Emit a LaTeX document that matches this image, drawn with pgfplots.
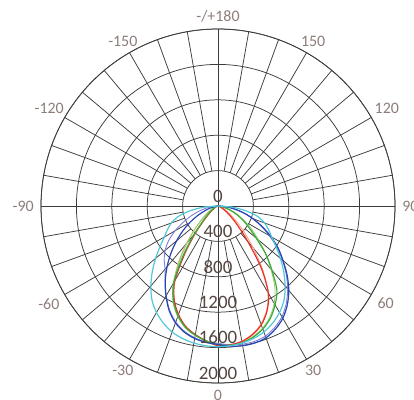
\documentclass[border=0pt]{standalone}
\usepackage{fontspec}
\setmainfont{Carlito}
\usepackage{pgfplots}
\pgfplotsset{compat=1.18}
\usepackage{pgfplotstable}
\usepgfplotslibrary{polar}

\definecolor{gridc}{RGB}{60,60,60}
\definecolor{angc}{RGB}{140,125,120}
\definecolor{ringc}{RGB}{85,70,65}
\definecolor{ccyan}{RGB}{80,200,215}
\definecolor{cblue}{RGB}{40,70,180}
\definecolor{cpurple}{RGB}{125,125,220}
\definecolor{cgreen}{RGB}{60,170,60}
\definecolor{clgreen}{RGB}{150,210,110}
\definecolor{cred}{RGB}{235,45,40}
\definecolor{csalmon}{RGB}{245,165,140}

% a = angle from nadir (deg, + to the right), r = cd
\pgfplotstableread{
a r
-90 0
-85 170
-80 330
-75 470
-70 560
-65 630
-60 700
-55 800
-50 920
-45 1050
-40 1180
-35 1300
-30 1390
-25 1460
-20 1515
-15 1550
-10 1572
-5 1585
0 1590
5 1585
10 1572
15 1550
20 1515
25 1460
30 1390
35 1300
40 1180
45 1050
50 920
55 800
60 700
65 630
70 560
75 470
80 330
85 170
90 0
}\cyandata

\pgfplotstableread{
a r
-90 0
-85 20
-80 45
-75 95
-70 160
-65 250
-60 360
-55 480
-50 610
-45 750
-40 895
-35 1040
-30 1175
-25 1305
-20 1405
-15 1475
-10 1520
-5 1548
0 1565
5 1590
10 1603
15 1603
20 1585
25 1535
30 1465
35 1365
40 1245
45 1105
50 960
55 830
60 690
65 550
70 420
75 300
80 180
85 80
90 0
}\bluedata

\pgfplotstableread{
a r
-90 0
-85 60
-80 130
-75 220
-70 320
-65 430
-60 560
-55 680
-50 780
-45 860
-40 930
-35 1040
-30 1170
-25 1295
-20 1395
-15 1465
-10 1512
-5 1540
0 1552
5 1575
10 1585
15 1585
20 1565
25 1515
30 1445
35 1345
40 1225
45 1090
50 950
55 810
60 670
65 540
70 420
75 300
80 190
85 90
90 0
}\purpledata

\pgfplotstableread{
a r
-90 0
-80 10
-70 25
-65 40
-60 60
-55 95
-50 150
-45 240
-40 420
-35 690
-30 1000
-25 1190
-20 1320
-15 1420
-10 1482
-5 1530
0 1565
5 1580
10 1570
15 1535
20 1480
25 1400
30 1290
35 1160
40 950
45 760
50 560
55 430
60 330
65 240
70 160
75 90
80 40
85 15
90 0
}\greendata

\pgfplotstableread{
a r
-90 0
-80 20
-70 50
-60 110
-55 170
-50 250
-45 370
-40 540
-35 760
-30 1010
-25 1200
-20 1330
-15 1425
-10 1485
-5 1532
0 1565
5 1578
10 1565
15 1528
20 1470
25 1385
30 1270
35 1120
40 930
45 760
50 600
55 470
60 360
65 260
70 180
75 100
80 45
85 15
90 0
}\lgreendata

\pgfplotstableread{
a r
-90 0
-80 8
-70 20
-65 30
-60 45
-55 75
-50 125
-45 215
-40 390
-35 650
-30 975
-25 1170
-20 1305
-15 1410
-10 1475
-5 1530
0 1578
5 1575
10 1555
15 1505
20 1430
25 1310
30 1140
35 850
40 525
45 320
50 200
55 120
60 70
65 40
70 20
80 8
90 0
}\reddata

\pgfplotstableread{
a r
-90 0
-70 30
-60 80
-55 140
-50 230
-45 370
-40 560
-35 780
-30 1000
-25 1180
-20 1310
-15 1410
-10 1478
-5 1530
0 1575
5 1572
10 1550
15 1498
20 1420
25 1300
30 1130
35 880
40 620
45 420
50 280
55 180
60 110
65 60
70 30
80 10
90 0
}\salmondata

\begin{document}
\begin{tikzpicture}
\begin{polaraxis}[
    width=354bp, height=354bp, scale only axis,
    ymin=0, ymax=2000,
    xtick={0,90,180,270},
    ytick={400,800,1200,1600,2000},
    xticklabel={\relax},
    yticklabel={\relax},
    major tick length=0pt,
    grid=major,
    major grid style={draw=gridc, line width=0.75pt},
    axis line style={draw=gridc, line width=0.75pt},
    clip=false,
    every axis plot/.append style={line width=1.2pt, smooth, no markers},
]
\coordinate (c) at (axis cs:0,0);
\pgfplotsinvokeforeach{10,20,30,40,50,60,70,80,100,110,120,130,140,150,160,170,190,200,210,220,230,240,250,260,280,290,300,310,320,330,340,350}{
  \draw[gridc, line width=0.75pt] (axis cs:#1,400) -- (axis cs:#1,2000);
}

\addplot[csalmon, line width=0.9pt] table[x expr=\thisrow{a}-90, y=r] {\salmondata};
\addplot[clgreen, line width=0.9pt] table[x expr=\thisrow{a}-90, y=r] {\lgreendata};
\addplot[cpurple, line width=0.9pt] table[x expr=\thisrow{a}-90, y=r] {\purpledata};
\addplot[cred] table[x expr=\thisrow{a}-90, y=r] {\reddata};
\addplot[cgreen] table[x expr=\thisrow{a}-90, y=r] {\greendata};
\addplot[cblue] table[x expr=\thisrow{a}-90, y=r] {\bluedata};
\addplot[ccyan] table[x expr=\thisrow{a}-90, y=r] {\cyandata};

% ring values along the nadir line
\pgfplotsinvokeforeach{0,400,800,1200,1600,2000}{
  \node[ringc, font=\fontsize{19}{19}\selectfont, inner sep=0pt, yshift=10bp] at (axis cs:-90,#1) {#1};
}

% angle labels
\node[angc, font=\fontsize{16}{16}\selectfont, inner sep=0pt, anchor=90]  at (axis cs:-90,2080) {0};
\node[angc, font=\fontsize{16}{16}\selectfont, inner sep=0pt, anchor=120] at (axis cs:-60,2080) {30};
\node[angc, font=\fontsize{16}{16}\selectfont, inner sep=0pt, anchor=150] at (axis cs:-30,2080) {60};
\node[angc, font=\fontsize{16}{16}\selectfont, inner sep=0pt, anchor=180] at (axis cs:0,2080) {90};
\node[angc, font=\fontsize{16}{16}\selectfont, inner sep=0pt, anchor=210] at (axis cs:30,2080) {120};
\node[angc, font=\fontsize{16}{16}\selectfont, inner sep=0pt, anchor=240] at (axis cs:60,2080) {150};
\node[angc, font=\fontsize{16}{16}\selectfont, inner sep=0pt, anchor=270] at (axis cs:90,2080) {-/+180};
\node[angc, font=\fontsize{16}{16}\selectfont, inner sep=0pt, anchor=300] at (axis cs:120,2080) {-150};
\node[angc, font=\fontsize{16}{16}\selectfont, inner sep=0pt, anchor=330] at (axis cs:150,2080) {-120};
\node[angc, font=\fontsize{16}{16}\selectfont, inner sep=0pt, anchor=0]   at (axis cs:180,2080) {-90};
\node[angc, font=\fontsize{16}{16}\selectfont, inner sep=0pt, anchor=30]  at (axis cs:210,2080) {-60};
\node[angc, font=\fontsize{16}{16}\selectfont, inner sep=0pt, anchor=60]  at (axis cs:240,2080) {-30};
\end{polaraxis}
\pgfresetboundingbox
\path[use as bounding box] (c) ++(-218bp,-194bp) rectangle ++(414bp,400bp);
\end{tikzpicture}
\end{document}
